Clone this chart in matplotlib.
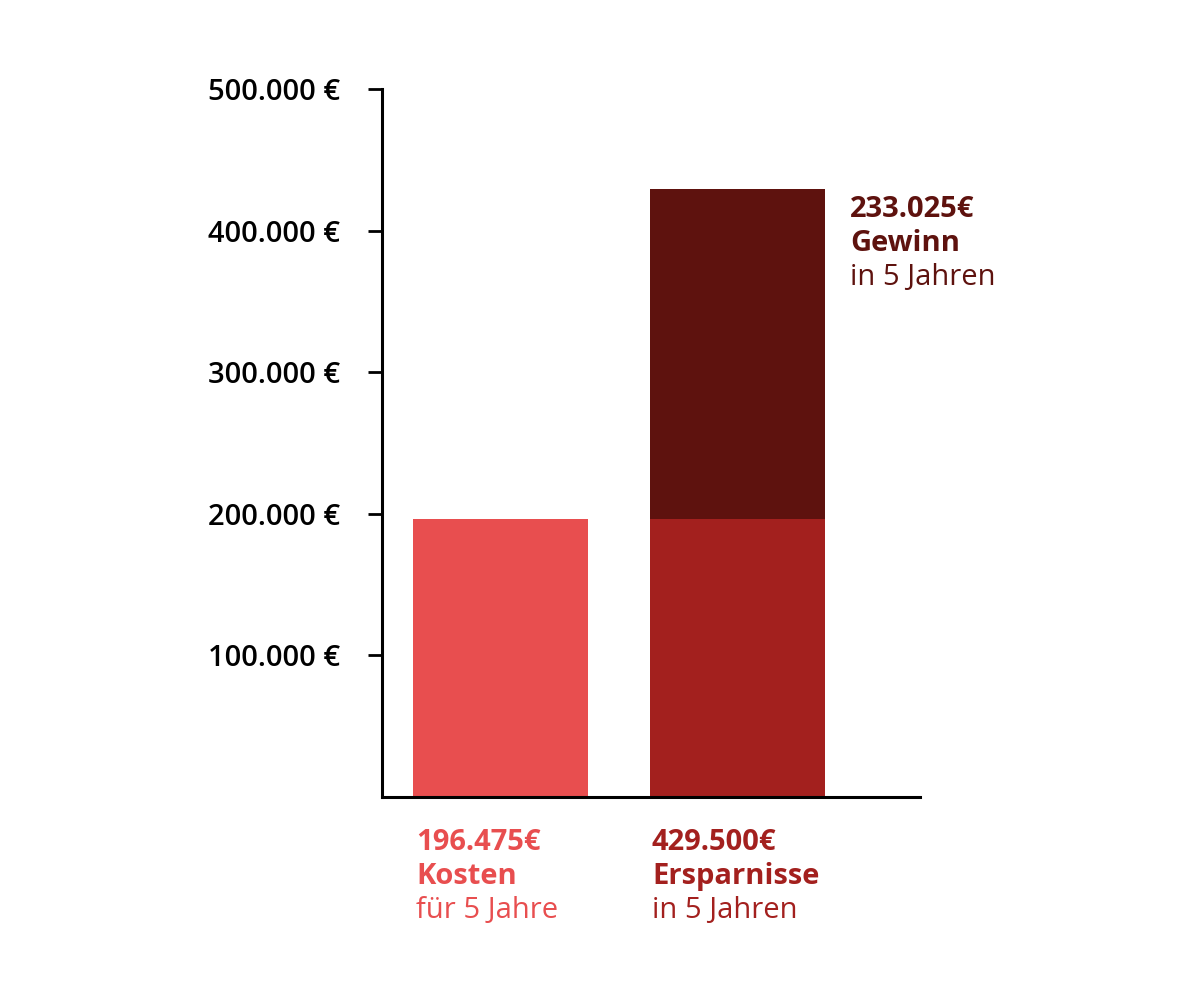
import matplotlib.pyplot as plt
import matplotlib.ticker as mticker

plt.rcParams['font.family'] = ['Open Sans', 'DejaVu Sans']

# data
bar_pos = [0, 1]
kosten = 196475
gewinn = 233025
ersparnisse = kosten + gewinn
tick_vals = [100000, 200000, 300000, 400000, 500000]
tick_labels = ["100.000 €", "200.000 €", "300.000 €", "400.000 €", "500.000 €"]

c_light = "#E84E4F"
c_mid = "#A3201E"
c_dark = "#5E120E"

W, H = 1200, 997
fig = plt.figure(figsize=(W / 100, H / 100), dpi=100)
ax = fig.add_axes([382 / W, 1 - 797 / H, (920 - 382) / W, (797 - 89) / H])

bw = 175 / 237
ax.bar(bar_pos[0], kosten, width=bw, color=c_light)
ax.bar(bar_pos[1], kosten, width=bw, color=c_mid)
ax.bar(bar_pos[1], gewinn, width=bw, bottom=kosten, color=c_dark)

ax.set_xlim(-0.5, 1.77)
ax.set_ylim(0, 500000)
ax.set_yticks(tick_vals)
ax.set_yticklabels(tick_labels, fontsize=21, fontweight='semibold')
ax.set_xticks([])
ax.tick_params(axis='y', length=10, width=2, pad=20, color='black')
for s in ['top', 'right']:
    ax.spines[s].set_visible(False)
for s in ['left', 'bottom']:
    ax.spines[s].set_linewidth(2.2)


def label(x, y, lines, color):
    # lines: list of (text, weight); y is baseline of first line in pixels
    for i, (txt, wt) in enumerate(lines):
        fig.text(x / W, 1 - (y + i * 34) / H, txt, color=color, fontsize=21,
                 fontweight=wt, ha='left', va='baseline')


label(416, 850, [(f"{kosten:,}€".replace(",", "."), 'bold'), ("Kosten", 'bold'),
                 ("für 5 Jahre", 'normal')], c_light)
label(652, 850, [(f"{ersparnisse:,}€".replace(",", "."), 'bold'), ("Ersparnisse", 'bold'),
                 ("in 5 Jahren", 'normal')], c_mid)
label(850, 217, [(f"{gewinn:,}€".replace(",", "."), 'bold'), ("Gewinn", 'bold'),
                 ("in 5 Jahren", 'normal')], c_dark)

fig.savefig("out.png", dpi=100)
